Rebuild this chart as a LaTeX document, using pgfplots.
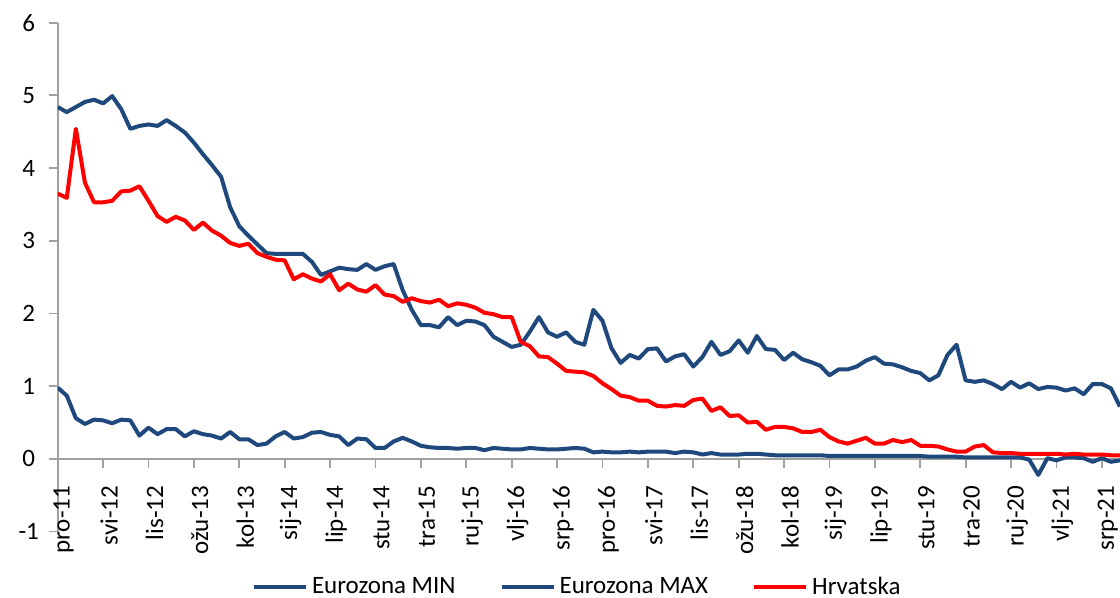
\documentclass[border=0pt]{standalone}
\usepackage{fontspec}
\setmainfont{Carlito}
\usepackage{pgfplots}
\pgfplotsset{compat=1.18}
\usepackage{pgfplotstable}
\definecolor{ezblue}{HTML}{1F497D}
\definecolor{axgray}{HTML}{A0A0A0}

\pgfplotstableread{
i mn mx hr
0 0.98 4.84 3.65
1 0.87 4.77 3.59
2 0.56 4.84 4.54
3 0.48 4.91 3.80
4 0.54 4.94 3.53
5 0.53 4.89 3.53
6 0.49 4.99 3.55
7 0.54 4.81 3.68
8 0.53 4.54 3.69
9 0.32 4.58 3.75
10 0.43 4.60 3.55
11 0.34 4.58 3.34
12 0.41 4.66 3.26
13 0.41 4.58 3.33
14 0.31 4.49 3.28
15 0.38 4.35 3.15
16 0.34 4.19 3.25
17 0.32 4.04 3.14
18 0.28 3.88 3.07
19 0.37 3.46 2.97
20 0.27 3.20 2.93
21 0.27 3.07 2.96
22 0.19 2.95 2.83
23 0.21 2.83 2.78
24 0.31 2.82 2.74
25 0.37 2.82 2.73
26 0.28 2.82 2.47
27 0.30 2.82 2.54
28 0.36 2.71 2.48
29 0.37 2.53 2.44
30 0.33 2.58 2.54
31 0.31 2.63 2.32
32 0.19 2.61 2.41
33 0.28 2.60 2.33
34 0.27 2.68 2.30
35 0.15 2.60 2.39
36 0.15 2.65 2.26
37 0.24 2.68 2.24
38 0.29 2.32 2.16
39 0.24 2.05 2.21
40 0.18 1.84 2.17
41 0.16 1.84 2.15
42 0.15 1.81 2.19
43 0.15 1.95 2.10
44 0.14 1.84 2.14
45 0.15 1.90 2.12
46 0.15 1.89 2.08
47 0.12 1.84 2.01
48 0.15 1.68 1.99
49 0.14 1.61 1.95
50 0.13 1.54 1.95
51 0.13 1.57 1.61
52 0.15 1.75 1.55
53 0.14 1.95 1.41
54 0.13 1.74 1.40
55 0.13 1.68 1.31
56 0.14 1.74 1.21
57 0.15 1.61 1.20
58 0.14 1.57 1.19
59 0.09 2.05 1.14
60 0.10 1.90 1.04
61 0.09 1.52 0.96
62 0.09 1.32 0.87
63 0.10 1.43 0.85
64 0.09 1.38 0.80
65 0.10 1.51 0.80
66 0.10 1.52 0.73
67 0.10 1.34 0.72
68 0.08 1.41 0.74
69 0.10 1.44 0.73
70 0.09 1.27 0.81
71 0.06 1.40 0.83
72 0.08 1.61 0.66
73 0.06 1.43 0.71
74 0.06 1.48 0.59
75 0.06 1.63 0.60
76 0.07 1.46 0.50
77 0.07 1.69 0.51
78 0.06 1.51 0.40
79 0.05 1.50 0.44
80 0.05 1.36 0.44
81 0.05 1.46 0.42
82 0.05 1.37 0.37
83 0.05 1.33 0.37
84 0.05 1.28 0.40
85 0.04 1.15 0.30
86 0.04 1.23 0.24
87 0.04 1.23 0.21
88 0.04 1.27 0.25
89 0.04 1.35 0.29
90 0.04 1.40 0.21
91 0.04 1.31 0.21
92 0.04 1.30 0.26
93 0.04 1.26 0.23
94 0.04 1.21 0.26
95 0.04 1.18 0.18
96 0.03 1.08 0.18
97 0.03 1.15 0.17
98 0.03 1.43 0.13
99 0.03 1.57 0.10
100 0.02 1.08 0.10
101 0.02 1.06 0.17
102 0.02 1.08 0.19
103 0.02 1.03 0.09
104 0.02 0.96 0.08
105 0.02 1.06 0.08
106 0.02 0.98 0.07
107 -0.01 1.04 0.07
108 -0.22 0.96 0.07
109 0.01 0.99 0.07
110 -0.02 0.98 0.07
111 0.02 0.94 0.06
112 0.02 0.97 0.07
113 0.01 0.89 0.06
114 -0.04 1.03 0.06
115 0.01 1.03 0.06
116 -0.04 0.97 0.05
117 -0.02 0.72 0.05
}\data

\begin{document}
\begin{tikzpicture}
\begin{axis}[
  name=ax,
  scale only axis, width=531.15pt, height=254.45pt,
  xmin=0, xmax=117, ymin=-1, ymax=6,
  axis x line*=middle, axis y line*=left,
  hide obscured x ticks=false, hide obscured y ticks=false,
  axis line style={axgray, line width=0.9pt},
  xtick={0,5,...,115},
  xticklabels={pro-11,svi-12,lis-12,ožu-13,kol-13,sij-14,lip-14,stu-14,tra-15,ruj-15,vlj-16,srp-16,pro-16,svi-17,lis-17,ožu-18,kol-18,sij-19,lip-19,stu-19,tra-20,ruj-20,vlj-21,srp-21},
  ytick={-1,0,...,6},
  yticklabels={-1,0,1,2,3,4,5,6},
  tick align=outside, major tick length=4.5pt,
  tick style={axgray, line width=0.9pt},
  ticklabel style={font=\fontsize{12.5}{15}\selectfont, text=black},
  xticklabel style={xshift=3pt, yshift=-5.5pt, rotate=90, anchor=east},
  yticklabel style={anchor=center, xshift=-10pt},
  legend columns=3,
  legend style={draw=none, fill=none, at={(0.49,-0.109)}, anchor=center,
    font=\fontsize{12.5}{15}\selectfont,
    /tikz/every even column/.append style={column sep=20pt}},
  legend image code/.code={\draw[#1] (0pt,0pt) -- (26pt,0pt);},
  every axis plot/.append style={line width=2pt, line join=round, mark=none},
]
\addplot[ezblue] table[x=i, y=mn] {\data};
\addlegendentry{Eurozona MIN}
\addplot[ezblue] table[x=i, y=mx] {\data};
\addlegendentry{Eurozona MAX}
\addplot[red] table[x=i, y=hr] {\data};
\addlegendentry{Hrvatska}
\end{axis}
\pgfresetboundingbox
\path ([xshift=-28.85pt, yshift=-33.2pt]ax.south west) rectangle ([yshift=11.35pt]ax.north east);
\end{tikzpicture}
\end{document}
